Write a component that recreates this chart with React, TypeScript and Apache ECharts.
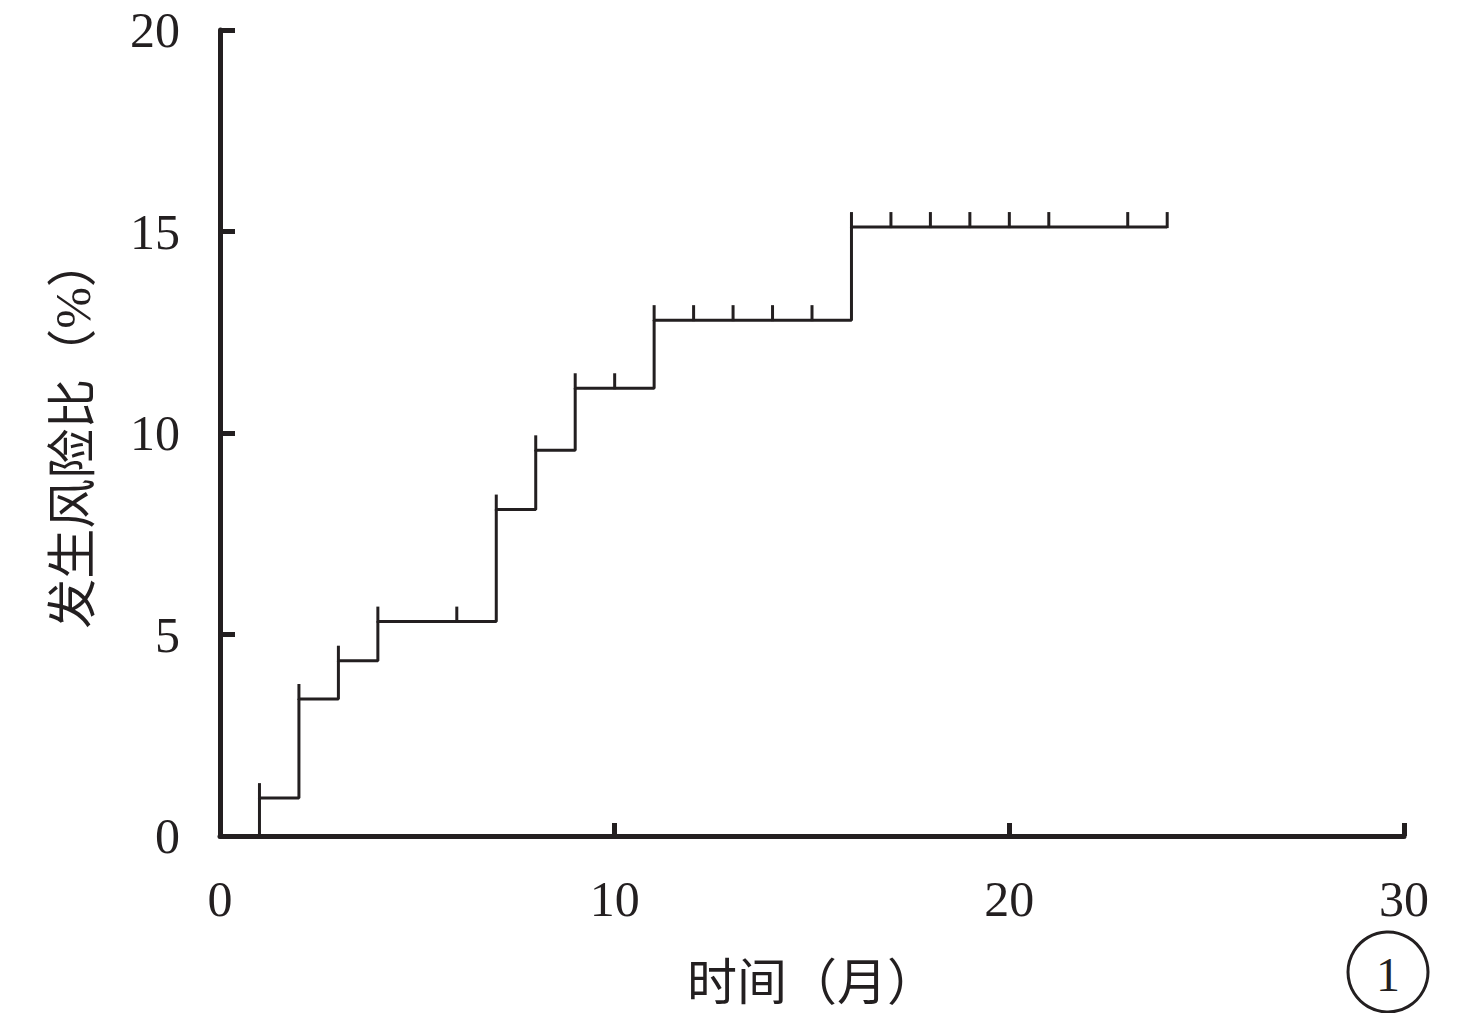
import React, { useEffect, useRef } from "react";
import * as echarts from "echarts";

// Kaplan–Meier style cumulative incidence (%)
const eventTimes = [1, 1, 2, 3, 4, 7, 8, 9, 11, 16, 24];
const eventValues = [0, 0.94, 3.4, 4.35, 5.32, 8.1, 9.57, 11.11, 12.8, 15.11, 15.11];
// vertical marks (step rises and censoring ticks)
const markTimes = [1, 2, 3, 4, 6, 7, 8, 9, 10, 11, 12, 13, 14, 15, 16, 17, 18, 19, 20, 21, 23, 24];
const markValues = [0.94, 3.4, 4.35, 5.32, 5.32, 8.1, 9.57, 11.11, 11.11, 12.8, 12.8, 12.8, 12.8, 12.8, 15.11, 15.11, 15.11, 15.11, 15.11, 15.11, 15.11, 15.11];
const xTicks = [0, 10, 20, 30];
const yTicks = [0, 5, 10, 15, 20];
const xName = "时间（月）";
const yName = "发生风险比（%）";
const panelLabel = "1";

const INK = "#231f20";
const FONT = "'Liberation Serif', 'Noto Sans CJK SC', serif";

export default function App() {
  const ref = useRef<HTMLDivElement>(null);
  useEffect(() => {
    if (!ref.current) return;
    const chart = echarts.init(ref.current, undefined, { renderer: "svg" });
    const curve = eventTimes.map((t, i) => [t, eventValues[i]]);
    const marks = markTimes.map((t, i) => [t, markValues[i]]);
    chart.setOption({
      animation: false,
      backgroundColor: "#ffffff",
      grid: { left: 220, right: 72, top: 30, bottom: 171, containLabel: false },
      xAxis: {
        type: "value",
        min: xTicks[0],
        max: xTicks[xTicks.length - 1],
        interval: 10,
        name: xName,
        nameLocation: "middle",
        nameGap: 122,
        nameTextStyle: { fontFamily: FONT, fontSize: 50, color: INK },
        axisLine: { show: true, onZero: false, lineStyle: { color: INK, width: 5 } },
        axisTick: { show: true, inside: true, length: 13, lineStyle: { color: INK, width: 5 } },
        axisLabel: { fontFamily: FONT, fontSize: 50, color: INK, margin: 38 },
        splitLine: { show: false },
      },
      yAxis: {
        type: "value",
        min: yTicks[0],
        max: yTicks[yTicks.length - 1],
        interval: 5,
        name: yName,
        nameLocation: "middle",
        nameGap: 122,
        nameRotate: 90,
        nameTextStyle: { fontFamily: FONT, fontSize: 50, color: INK },
        axisLine: { show: true, lineStyle: { color: INK, width: 5 } },
        axisTick: { show: true, inside: true, length: 15, lineStyle: { color: INK, width: 5 } },
        axisLabel: { fontFamily: FONT, fontSize: 50, color: INK, margin: 40 },
        splitLine: { show: false },
      },
      series: [
        {
          type: "line",
          step: "end",
          data: curve,
          symbol: "none",
          lineStyle: { color: INK, width: 3 },
          z: 3,
        },
        {
          type: "custom",
          data: marks,
          z: 4,
          renderItem: (params: any, api: any) => {
            const p = api.coord([api.value(0), api.value(1)]);
            return {
              type: "line",
              shape: { x1: p[0], y1: p[1] + 1, x2: p[0], y2: p[1] - 15 },
              style: { stroke: INK, lineWidth: 3 },
            };
          },
        },
      ],
      graphic: [
        {
          type: "circle",
          shape: { cx: 1388, cy: 972, r: 40 },
          style: { fill: "none", stroke: INK, lineWidth: 3 },
        },
        {
          type: "text",
          x: 1388,
          y: 974,
          style: {
            text: panelLabel,
            fontFamily: FONT,
            fontSize: 48,
            fill: INK,
            align: "center",
            verticalAlign: "middle",
          },
        },
      ],
    });
    return () => chart.dispose();
  }, []);
  return (
    <div
      ref={ref}
      style={{ position: "fixed", left: 0, top: 0, width: 1476, height: 1013, background: "#fff" }}
    />
  );
}
